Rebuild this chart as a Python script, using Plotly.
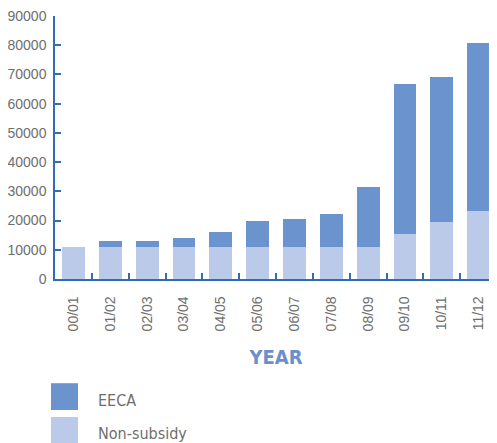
import plotly.graph_objects as go

years = ["00/01", "01/02", "02/03", "03/04", "04/05", "05/06", "06/07", "07/08",
         "08/09", "09/10", "10/11", "11/12"]
non_subsidy = [11000, 11000, 11000, 11000, 11000, 11000, 11000, 11000, 11000, 15300, 19400, 23400]
eeca = [0, 2000, 2000, 3000, 5000, 9000, 9400, 11100, 20600, 51600, 49600, 57400]
y_ticks = [0, 10000, 20000, 30000, 40000, 50000, 60000, 70000, 80000, 90000]

series_names = ["EECA", "Non-subsidy"]
series_colors = {"EECA": "#6b93cd", "Non-subsidy": "#bacae8"}

# page offset of the figure (default body margin)
OFF = 8
W, H = 497 - OFF, 443 - OFF
ML, MR, MT, MB = 55 - OFF, 0, 14 - OFF, 443 - 279
PW, PH = W - ML - MR, H - MT - MB

def px_x(x):
    return (x - OFF - ML) / PW

def px_y(y):
    return (H - MB - (y - OFF)) / PH

AXIS = "#2f6db5"
GRAY = "#6e6e6e"
FONT = "Liberation Sans, Arial, sans-serif"
NARROW = "DejaVu Sans Condensed, Liberation Sans Narrow, Liberation Sans, sans-serif"
TITLE_FONT = "Liberation Sans Narrow, DejaVu Sans Condensed, sans-serif"

fig = go.Figure()
fig.add_trace(go.Bar(x=years, y=non_subsidy, name="Non-subsidy",
                     marker=dict(color=series_colors["Non-subsidy"], line=dict(width=0)),
                     showlegend=False))
fig.add_trace(go.Bar(x=years, y=eeca, name="EECA",
                     marker=dict(color=series_colors["EECA"], line=dict(width=0)),
                     showlegend=False))

shapes = []
annotations = []
legend_rows = [384, 418]
for name, top in zip(series_names, legend_rows):
    shapes.append(dict(type="rect", xref="paper", yref="paper",
                       x0=px_x(51), x1=px_x(78), y0=px_y(top), y1=px_y(top + 27),
                       fillcolor=series_colors[name], line=dict(width=0)))
    annotations.append(dict(text=name, xref="paper", yref="paper",
                            x=px_x(96), y=px_y(top + 17), xanchor="left", yanchor="middle",
                            showarrow=False, font=dict(family=NARROW, size=16, color=GRAY)))

fig.update_layout(
    width=W, height=H,
    margin=dict(l=ML, r=MR, t=MT, b=MB, pad=0),
    barmode="stack", bargap=0.38,
    plot_bgcolor="white", paper_bgcolor="white",
    font=dict(family=FONT, color=GRAY, size=14),
    shapes=shapes, annotations=annotations,
    showlegend=False,
)
fig.update_xaxes(
    type="category", showline=True, linecolor=AXIS, linewidth=1.5,
    ticks="inside", tickson="boundaries", ticklen=6, tickcolor=AXIS, tickwidth=1.5,
    tickangle=-90, tickfont=dict(family=FONT, size=14, color=GRAY), ticklabelstandoff=10,
    showgrid=False, zeroline=False,
    title=dict(text="<b>YEAR</b>", font=dict(family=TITLE_FONT, size=20, color="#6b8fcc"), standoff=20),
)
fig.update_yaxes(
    range=[0, 90000], tickmode="array", tickvals=y_ticks, ticktext=[str(v) for v in y_ticks],
    showline=True, linecolor=AXIS, linewidth=1.5,
    ticks="inside", ticklen=6, tickcolor=AXIS, tickwidth=1.5,
    tickfont=dict(family=FONT, size=14, color=GRAY), ticklabelstandoff=4,
    ticklabeloverflow="allow",
    showgrid=False, zeroline=False,
)

fig.write_html("out.html")
